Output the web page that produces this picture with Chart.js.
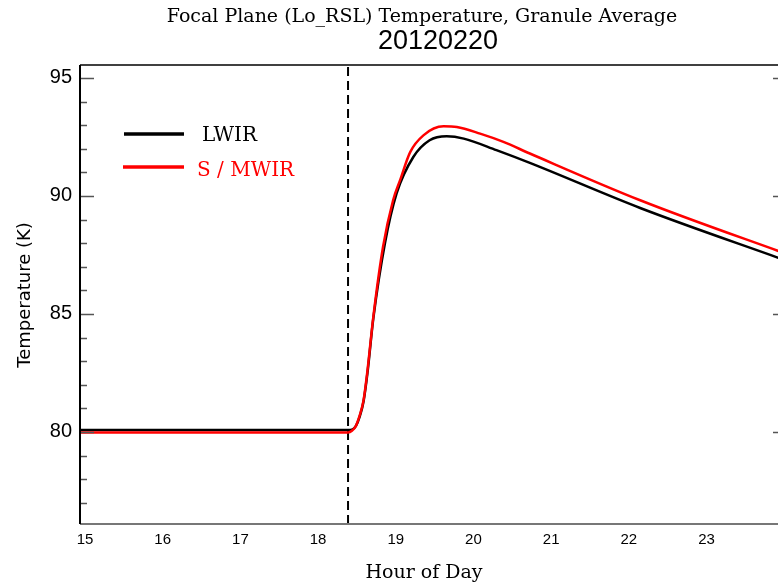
<!DOCTYPE html>
<html>
<head>
<meta charset="utf-8">
<script src="https://cdn.jsdelivr.net/npm/chart.js"></script>
<style>
  html, body { margin: 0; padding: 0; background: #fff; overflow: hidden; }
  #wrap { width: 790px; height: 586px; }
</style>
</head>
<body>
<div id="wrap"><canvas id="fpChart" width="790" height="586"></canvas></div>
<script>
// LWIR (black) focal plane temperature, hour of day vs kelvin
var lwirHours = [15.0, 18.45, 18.50, 18.55, 18.60, 18.65, 18.70, 18.775, 18.925, 19.075, 19.29, 19.50, 19.72, 19.94, 20.36, 20.79, 22.21, 23.98, 24.1];
var lwirTemp  = [80.08, 80.08, 80.10, 80.25, 80.65, 81.30, 82.50, 84.80, 88.00, 90.11, 91.65, 92.36, 92.53, 92.43, 91.94, 91.40, 89.49, 87.39, 87.25];

// S / MWIR (red)
var swirHours = [15.0, 18.45, 18.50, 18.55, 18.60, 18.65, 18.70, 18.775, 18.90, 19.03, 19.12, 19.25, 19.42, 19.68, 19.85, 20.15, 20.45, 20.79, 22.21, 23.98, 24.1];
var swirTemp  = [79.98, 79.98, 80.05, 80.25, 80.70, 81.35, 82.60, 84.87, 87.84, 89.82, 90.67, 91.86, 92.57, 92.95, 92.92, 92.64, 92.29, 91.80, 89.82, 87.68, 87.54];

var xTicks = [15, 16, 17, 18, 19, 20, 21, 22, 23];
var yTicks = [80, 85, 90, 95];
var markerHour = 18.45;   // dashed vertical marker
var xRange = [15, 24.1];
var yRange = [76.1, 95.55];

function toPoints(xs, ys) {
     return xs.map(function(x, i){ return {x: x, y: ys[i]}; });
}

// axis frame, inward ticks, titles and legend
var framePlugin = {
     id: 'frame',
     afterDraw: function(chart) {
          var ctx = chart.ctx, a = chart.chartArea, ys = chart.scales.y;
          ctx.save();

          ctx.strokeStyle = '#555';
          ctx.lineWidth = 1.5;
          for (var v = Math.ceil(ys.min); v <= ys.max; v++) {
               var py = Math.round(ys.getPixelForValue(v)) + 0.5;
               var len = (v % 5 === 0) ? 14 : 7;
               ctx.beginPath();
               ctx.moveTo(a.left, py); ctx.lineTo(a.left + len, py);
               ctx.moveTo(a.right, py); ctx.lineTo(a.right - len, py);
               ctx.stroke();
          }

          // bottom (gray), left + top (black)
          ctx.strokeStyle = '#777';
          ctx.lineWidth = 2;
          ctx.beginPath(); ctx.moveTo(a.left, a.bottom); ctx.lineTo(a.right, a.bottom); ctx.stroke();
          ctx.strokeStyle = '#000';
          ctx.beginPath(); ctx.moveTo(a.left, a.top); ctx.lineTo(a.left, a.bottom); ctx.stroke();
          ctx.lineWidth = 1.5;
          ctx.beginPath(); ctx.moveTo(a.left, a.top); ctx.lineTo(a.right, a.top); ctx.stroke();
          ctx.beginPath(); ctx.moveTo(a.right, a.top); ctx.lineTo(a.right, a.bottom); ctx.stroke();

          ctx.textAlign = 'center';
          ctx.textBaseline = 'middle';
          ctx.fillStyle = '#000';
          ctx.font = '19px "DejaVu Serif"';
          ctx.fillText('Focal Plane (Lo_RSL) Temperature, Granule Average', 422, 17);
          ctx.font = '27px "Liberation Sans"';
          ctx.fillText('20120220', 438, 42);
          ctx.font = '19px "DejaVu Serif"';
          ctx.fillText('Hour of Day', 424, 573);

          ctx.save();
          ctx.translate(25, 295);
          ctx.rotate(-Math.PI / 2);
          ctx.font = '18px "DejaVu Sans"';
          ctx.fillText('Temperature (K)', 0, 0);
          ctx.restore();

          // legend
          ctx.lineWidth = 3.5;
          ctx.strokeStyle = '#000';
          ctx.beginPath(); ctx.moveTo(124, 134); ctx.lineTo(184, 134); ctx.stroke();
          ctx.strokeStyle = '#ff0000';
          ctx.beginPath(); ctx.moveTo(123, 167); ctx.lineTo(184, 167); ctx.stroke();
          ctx.textAlign = 'left';
          ctx.font = '20px "DejaVu Serif"';
          ctx.fillStyle = '#000';
          ctx.fillText('LWIR', 202, 136);
          ctx.fillStyle = '#ff0000';
          ctx.fillText('S / MWIR', 197, 171);

          ctx.restore();
     }
};

var ctx = document.getElementById('fpChart').getContext('2d');

new Chart(ctx, {
     type: 'line',
     data: {
          datasets: [
               {
                    label: 'S / MWIR',
                    data: toPoints(swirHours, swirTemp),
                    borderColor: '#ff0000',
                    borderWidth: 2.5,
                    pointRadius: 0,
                    cubicInterpolationMode: 'monotone',
                    fill: false
               },
               {
                    label: 'LWIR',
                    data: toPoints(lwirHours, lwirTemp),
                    borderColor: '#000000',
                    borderWidth: 2.5,
                    pointRadius: 0,
                    cubicInterpolationMode: 'monotone',
                    fill: false
               },
               {
                    label: 'marker',
                    data: [{x: markerHour, y: yRange[0]}, {x: markerHour, y: yRange[1]}],
                    borderColor: '#000000',
                    borderWidth: 2,
                    borderDash: [9, 5],
                    pointRadius: 0,
                    fill: false
               }
          ]
     },
     options: {
          responsive: false,
          animation: false,
          devicePixelRatio: 1,
          layout: { padding: { top: 65, right: 3, left: 0, bottom: 0 } },
          plugins: {
               legend: false,
               tooltip: { enabled: false }
          },
          scales: {
               x: {
                    type: 'linear',
                    min: xRange[0],
                    max: xRange[1],
                    afterBuildTicks: function(scale){ scale.ticks = xTicks.map(function(v){ return {value: v}; }); },
                    afterFit: function(scale){ scale.height = 62; },
                    grid: { display: false, drawTicks: false },
                    border: { display: false },
                    ticks: {
                         padding: 7,
                         labelOffset: 5,
                         maxRotation: 0,
                         color: '#000',
                         font: { family: 'Liberation Sans', size: 15 }
                    }
               },
               y: {
                    type: 'linear',
                    min: yRange[0],
                    max: yRange[1],
                    afterBuildTicks: function(scale){ scale.ticks = yTicks.map(function(v){ return {value: v}; }); },
                    afterFit: function(scale){ scale.width = 80; },
                    grid: { display: false, drawTicks: false },
                    border: { display: false },
                    ticks: {
                         padding: 8,
                         color: '#000',
                         font: { family: 'Liberation Sans', size: 20 }
                    }
               }
          }
     },
     plugins: [framePlugin]
});
</script>
</body>
</html>
